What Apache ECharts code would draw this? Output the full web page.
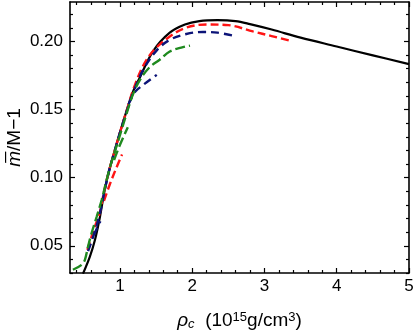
<!DOCTYPE html>
<html>
<head>
<meta charset="utf-8">
<script src="https://cdn.jsdelivr.net/npm/echarts@6/dist/echarts.min.js"></script>
<style>
  html, body { margin: 0; padding: 0; background: #fff; }
  #main { width: 415px; height: 330px; }
</style>
</head>
<body>
<div id="main"></div>
<script>
// curves, [rho_c, m/M-1]
var blackCurve = [[0.49, 0.0295], [0.585, 0.042], [0.654, 0.054], [0.72, 0.07], [0.79, 0.091],
  [0.86, 0.107], [0.93, 0.12], [1.0, 0.133], [1.11, 0.152], [1.18, 0.163], [1.28, 0.174],
  [1.46, 0.193], [1.69, 0.2065], [1.9, 0.2125], [2.1, 0.2150], [2.35, 0.2157], [2.6, 0.2150],
  [2.8, 0.2128], [3.1, 0.2088], [3.5, 0.2028], [4.0, 0.1963], [4.5, 0.1898], [5.0, 0.1834]]
var redCurve = [[0.55, 0.047], [0.61, 0.057], [0.654, 0.064], [0.72, 0.074], [0.79, 0.092],
  [0.86, 0.107], [0.93, 0.12], [1.0, 0.133], [1.11, 0.152], [1.18, 0.164], [1.32, 0.182],
  [1.46, 0.193], [1.69, 0.2037], [1.92, 0.2102], [2.2, 0.2125], [2.5, 0.212], [2.84, 0.2074],
  [3.1, 0.204], [3.35, 0.2007]]
var redBranch = [[0.78, 0.083], [0.86, 0.095], [0.95, 0.107], [1.03, 0.117]]
var blueCurve = [[0.56, 0.046], [0.62, 0.055], [0.68, 0.065], [0.75, 0.08], [0.79, 0.091],
  [0.86, 0.107], [0.93, 0.12], [1.0, 0.133], [1.11, 0.151], [1.18, 0.162], [1.32, 0.179],
  [1.51, 0.1935], [1.69, 0.2012], [1.92, 0.2055], [2.15, 0.207], [2.35, 0.2065], [2.59, 0.204]]
var blueBranch = [[1.12, 0.154], [1.21, 0.163], [1.32, 0.168], [1.51, 0.1755]]
var blueStub = [[0.64, 0.058], [0.73, 0.068]]
var greenCurve = [[0.35, 0.0324], [0.47, 0.036], [0.516, 0.0397], [0.56, 0.0495], [0.61, 0.0595],
  [0.68, 0.0715], [0.75, 0.084], [0.86, 0.107], [1.0, 0.131], [1.11, 0.15], [1.18, 0.161],
  [1.28, 0.172], [1.41, 0.181], [1.55, 0.1866], [1.69, 0.1927], [1.85, 0.1955], [1.97, 0.197]]
var greenBranch = [[0.92, 0.113], [1.0, 0.124], [1.11, 0.137]]

// tick positions
var xMajor = [1, 2, 3, 4, 5]
var xMinor = [0.4, 0.6, 0.8, 1.2, 1.4, 1.6, 1.8, 2.2, 2.4, 2.6, 2.8, 3.2, 3.4, 3.6, 3.8,
  4.2, 4.4, 4.6, 4.8]
var yMajor = [0.05, 0.10, 0.15, 0.20]
var yMinor = [0.03, 0.04, 0.06, 0.07, 0.08, 0.09, 0.11, 0.12, 0.13, 0.14, 0.16, 0.17,
  0.18, 0.19, 0.21, 0.22]

var font = 'Liberation Sans'
var xMin = 0.31, xMax = 5, yMin = 0.03, yMax = 0.229

function xAxisOf (pos, ticks, len, main) {
  return {
    type: 'value', position: pos, min: xMin, max: xMax,
    axisLine: { show: !!main, onZero: false, lineStyle: { color: '#000', width: 1.6 } },
    axisTick: { show: true, inside: true, length: len, customValues: ticks, lineStyle: { color: '#000', width: 1.2 } },
    axisLabel: { show: main === 'label', customValues: ticks, margin: 5, color: '#000', fontFamily: font, fontSize: 17 },
    splitLine: { show: false }
  }
}
function yAxisOf (pos, ticks, len, main) {
  return {
    type: 'value', position: pos, min: yMin, max: yMax,
    axisLine: { show: !!main, onZero: false, lineStyle: { color: '#000', width: 1.6 } },
    axisTick: { show: true, inside: true, length: len, customValues: ticks, lineStyle: { color: '#000', width: 1.2 } },
    axisLabel: {
      show: main === 'label', customValues: ticks, margin: 7, color: '#000', fontFamily: font, fontSize: 17,
      formatter: function (v) { return v.toFixed(2) }
    },
    splitLine: { show: false }
  }
}

var xa = xAxisOf('bottom', xMajor, 5, 'label')
xa.name = '{i|\u03c1}{sub|c}  (10{sup|15}g/cm{sup|3})'
xa.nameLocation = 'middle'
xa.nameGap = 38
xa.nameMoveOverlap = false
xa.nameTextStyle = {
  color: '#000', fontFamily: font, fontSize: 19,
  rich: {
    i: { fontFamily: font, fontSize: 19, fontStyle: 'italic', color: '#000' },
    sub: { fontFamily: font, fontSize: 13, fontStyle: 'italic', color: '#000', verticalAlign: 'bottom', padding: [7, 0, 0, 0] },
    sup: { fontFamily: font, fontSize: 13, color: '#000', verticalAlign: 'top', padding: [0, 0, 7, 0] }
  }
}

var ya = yAxisOf('left', yMajor, 5, 'label')
ya.name = '{i|m\u0305}/M\u22121'
ya.nameLocation = 'middle'
ya.nameGap = 46
ya.nameMoveOverlap = false
ya.nameRotate = 90
ya.nameTextStyle = {
  color: '#000', fontFamily: font, fontSize: 19,
  rich: { i: { fontFamily: font, fontSize: 19, fontStyle: 'italic', color: '#000' } }
}

function line (data, color, width, dash) {
  return {
    type: 'line', data: data, smooth: 0.35, showSymbol: false, symbol: 'none',
    xAxisIndex: 0, yAxisIndex: 0, silent: true,
    lineStyle: { color: color, width: width, type: dash, cap: 'butt' }
  }
}

var red = '#ff1414', blue = '#0c1478', green = '#1f8a1f'

var myChart = echarts.init(document.getElementById('main'))
myChart.setOption({
  animation: false,
  backgroundColor: '#fff',
  grid: { left: 70, right: 6, top: 2, bottom: 57, containLabel: false, outerBoundsMode: 'none' },
  xAxis: [xa, xAxisOf('bottom', xMinor, 3), xAxisOf('top', xMajor, 5, true), xAxisOf('top', xMinor, 3)],
  yAxis: [ya, yAxisOf('left', yMinor, 3), yAxisOf('right', yMajor, 5, true), yAxisOf('right', yMinor, 3)],
  series: [
    line(blackCurve, '#000', 2.2, 'solid'),
    line(redCurve, red, 2.4, [8, 4]),
    line(redBranch, red, 2.4, [8, 4]),
    line(blueCurve, blue, 2.4, [8, 5]),
    line(blueBranch, blue, 2.4, [8, 5]),
    line(blueStub, blue, 2.4, [8, 5]),
    line(greenCurve, green, 2.4, [10, 4]),
    line(greenBranch, green, 2.4, [10, 4])
  ]
})
</script>
</body>
</html>
